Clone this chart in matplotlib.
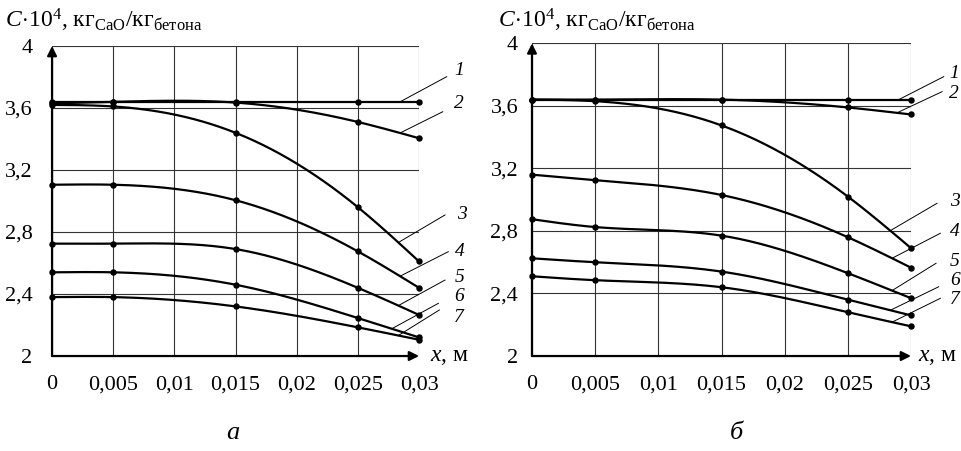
import numpy as np
import matplotlib
matplotlib.use("Agg")
import matplotlib.pyplot as plt

plt.rcParams['font.family'] = ['Liberation Serif', 'DejaVu Serif']
plt.rcParams['mathtext.fontset'] = 'custom'
plt.rcParams['mathtext.rm'] = 'Liberation Serif'
plt.rcParams['mathtext.it'] = 'Liberation Serif:italic'

# distance from the surface, m
x_pts = [0, 0.005, 0.015, 0.025, 0.03]

# C*10^4, kg CaO / kg concrete, panel "а"
a_c1 = [3.64, 3.64, 3.64, 3.64, 3.64]
a_c2 = [3.63, 3.64, 3.635, 3.51, 3.405]
a_c3 = [3.62, 3.61, 3.44, 2.96, 2.61]
a_c4 = [3.105, 3.105, 3.005, 2.675, 2.44]
a_c5 = [2.725, 2.725, 2.69, 2.44, 2.265]
a_c6 = [2.54, 2.54, 2.46, 2.245, 2.12]
a_c7 = [2.38, 2.38, 2.32, 2.185, 2.105]

# panel "б"
b_c1 = [3.64, 3.64, 3.64, 3.64, 3.64]
b_c2 = [3.64, 3.64, 3.64, 3.59, 3.545]
b_c3 = [3.64, 3.63, 3.475, 3.02, 2.69]
b_c4 = [3.16, 3.125, 3.03, 2.76, 2.565]
b_c5 = [2.875, 2.825, 2.77, 2.53, 2.37]
b_c6 = [2.625, 2.60, 2.54, 2.36, 2.26]
b_c7 = [2.51, 2.485, 2.44, 2.28, 2.19]

curve_names = ['1', '2', '3', '4', '5', '6', '7']

x_ticks = [0, 0.005, 0.01, 0.015, 0.02, 0.025, 0.03]
x_tick_labels = ['0', '0,005', '0,01', '0,015', '0,02', '0,025', '0,03']
y_ticks = [2, 2.4, 2.8, 3.2, 3.6, 4]
y_tick_labels = ['2', '2,4', '2,8', '3,2', '3,6', '4']


def natural_spline(xk, yk, xq):
    xk = np.asarray(xk, float)
    yk = np.asarray(yk, float)
    xq = np.asarray(xq, float)
    n = len(xk)
    h = np.diff(xk)
    A = np.zeros((n, n))
    r = np.zeros(n)
    A[0, 0] = 1
    A[-1, -1] = 1
    for i in range(1, n - 1):
        A[i, i - 1] = h[i - 1]
        A[i, i] = 2 * (h[i - 1] + h[i])
        A[i, i + 1] = h[i]
        r[i] = 6 * ((yk[i + 1] - yk[i]) / h[i] - (yk[i] - yk[i - 1]) / h[i - 1])
    m = np.linalg.solve(A, r)
    idx = np.clip(np.searchsorted(xk, xq) - 1, 0, n - 2)
    x0 = xk[idx]
    x1 = xk[idx + 1]
    hh = x1 - x0
    t0 = x1 - xq
    t1 = xq - x0
    return ((m[idx] * t0 ** 3 + m[idx + 1] * t1 ** 3) / (6 * hh)
            + (yk[idx] / hh - m[idx] * hh / 6) * t0
            + (yk[idx + 1] / hh - m[idx + 1] * hh / 6) * t1)


def draw_panel(ax, curves, leaders, ytick_pad):
    ax.set_xlim(0, 0.03)
    ax.set_ylim(2, 4)

    for s in ax.spines.values():
        s.set_visible(False)

    ax.set_xticks(x_ticks)
    ax.set_xticklabels(x_tick_labels)
    ax.set_yticks(y_ticks)
    ax.set_yticklabels(y_tick_labels)
    ax.tick_params(axis='x', length=0, pad=14, labelsize=16)
    ax.tick_params(axis='y', length=0, pad=ytick_pad, labelsize=16)
    ax.grid(True, color='#333333', lw=0.8)

    # axes with arrows
    ax.annotate('', xy=(0, 4), xytext=(0, 2),
                arrowprops=dict(arrowstyle='-|>', lw=1.6, color='k',
                                mutation_scale=14, shrinkA=0, shrinkB=0),
                annotation_clip=False)
    ax.annotate('', xy=(0.03, 2), xytext=(0, 2),
                arrowprops=dict(arrowstyle='-|>', lw=1.6, color='k',
                                mutation_scale=14, shrinkA=0, shrinkB=0),
                annotation_clip=False)

    xs = np.linspace(0, 0.03, 300)
    for ys in curves:
        ax.plot(xs, natural_spline(x_pts, ys, xs), color='k', lw=1.6)
        ax.plot(x_pts, ys, 'o', color='k', ms=3.6, clip_on=False)

    # numbered leader lines
    for ys, name, (x0, x1, y1, tx, ty) in zip(curves, curve_names, leaders):
        y0 = natural_spline(x_pts, ys, [x0])[0]
        ax.plot([x0, x1], [y0, y1], color='k', lw=0.7, clip_on=False)
        ax.text(tx, ty, name, fontsize=14, style='italic',
                ha='center', va='center', clip_on=False)


fig = plt.figure(figsize=(9.62, 4.51), dpi=100)

ax_a = fig.add_axes([0.0541, 0.2106, 0.3815, 0.6874])
ax_b = fig.add_axes([0.5530, 0.2106, 0.3940, 0.6933])

leaders_a = [
    (0.02845, 0.03226, 3.802, 0.03327, 3.845),
    (0.02845, 0.03194, 3.576, 0.03327, 3.632),
    (0.02831, 0.03212, 2.910, 0.03349, 2.910),
    (0.02845, 0.03239, 2.673, 0.03335, 2.673),
    (0.02831, 0.03212, 2.490, 0.03335, 2.505),
    (0.02777, 0.03158, 2.340, 0.03329, 2.385),
    (0.02831, 0.03166, 2.297, 0.03321, 2.250),
]
leaders_b = [
    (0.02903, 0.03259, 3.787, 0.03338, 3.805),
    (0.02889, 0.03246, 3.691, 0.03338, 3.676),
    (0.02836, 0.03206, 2.977, 0.03351, 2.987),
    (0.02850, 0.03232, 2.785, 0.03348, 2.795),
    (0.02850, 0.03198, 2.593, 0.03348, 2.603),
    (0.02836, 0.03219, 2.443, 0.03348, 2.482),
    (0.02850, 0.03232, 2.369, 0.03348, 2.362),
]

draw_panel(ax_a, [a_c1, a_c2, a_c3, a_c4, a_c5, a_c6, a_c7], leaders_a, 14)
draw_panel(ax_b, [b_c1, b_c2, b_c3, b_c4, b_c5, b_c6, b_c7], leaders_b, 10)

ylabel = r'$\mathit{C}\!\cdot\!10^4$, кг$_{\mathrm{CaO}}$/кг$_{\mathrm{бетона}}$'
fig.text(0.0052, 0.940, ylabel, fontsize=17, va='baseline')
fig.text(0.5177, 0.940, ylabel, fontsize=17, va='baseline')

fig.text(0.447, 0.2106, r'$\mathit{x}$, м', fontsize=17, va='center')
fig.text(0.954, 0.2106, r'$\mathit{x}$, м', fontsize=17, va='center')

fig.text(0.2422, 0.040, 'а', fontsize=19, style='italic', ha='center', va='center')
fig.text(0.766, 0.040, 'б', fontsize=19, style='italic', ha='center', va='center')

fig.savefig('out.png', dpi=100)
